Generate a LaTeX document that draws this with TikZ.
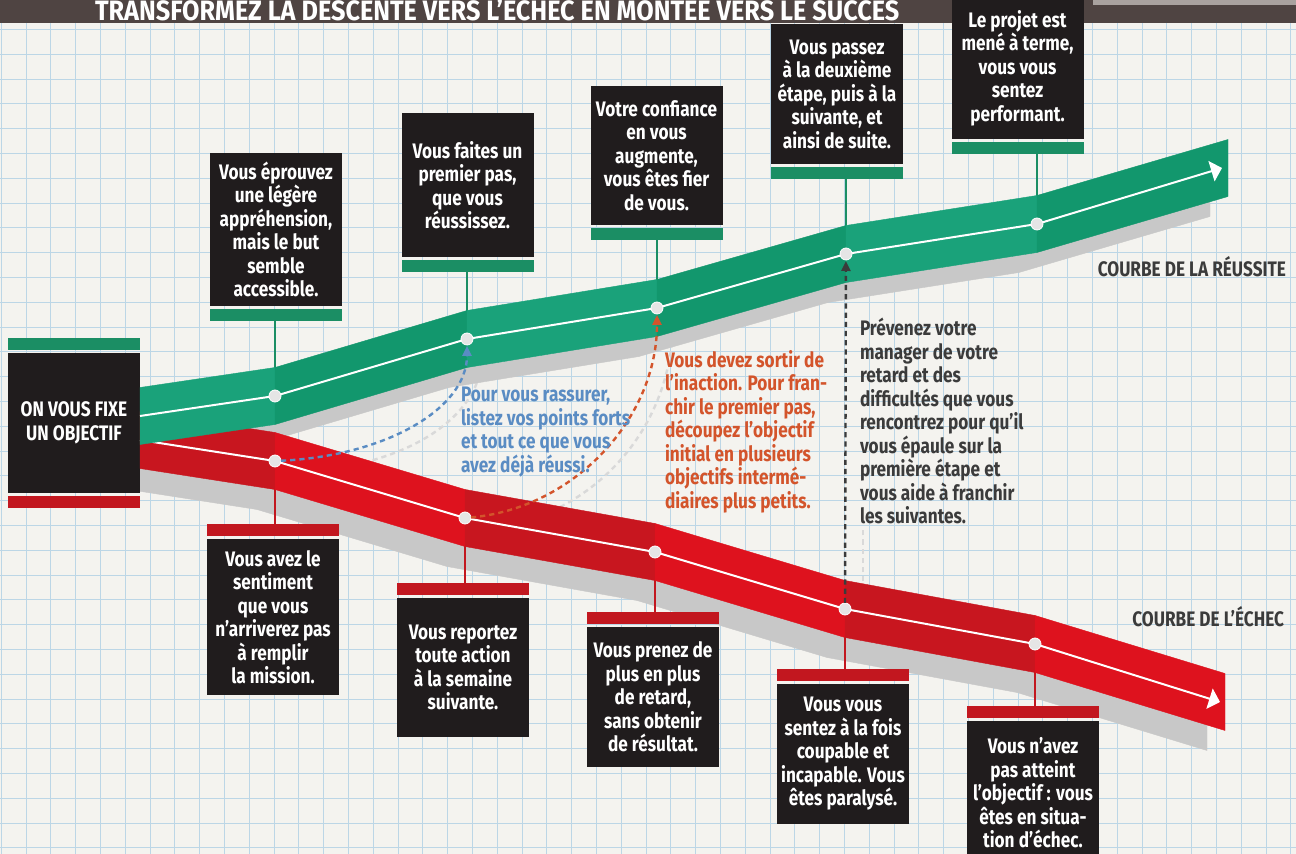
\documentclass[tikz,border=0pt]{standalone}
\usepackage{fontspec}
\setmainfont{Fira Sans}[FakeStretch=0.82]
\usetikzlibrary{arrows.meta,positioning,calc}
\definecolor{paper}{HTML}{F4F3EF}
\definecolor{gridblue}{HTML}{BCD6E6}
\definecolor{boxblack}{HTML}{201C1D}
\definecolor{titlebrown}{HTML}{4F4442}
\definecolor{titlegray}{HTML}{A9A29F}
\definecolor{greenA}{HTML}{1AA27A}
\definecolor{greenB}{HTML}{12976D}
\definecolor{greenbar}{HTML}{1B8E64}
\definecolor{redA}{HTML}{C8161F}
\definecolor{redB}{HTML}{DE121E}
\definecolor{redbar}{HTML}{C2171F}
\definecolor{shade}{HTML}{C8C8C8}
\definecolor{tipblue}{HTML}{5A8CC3}
\definecolor{tiporange}{HTML}{D3542B}
\definecolor{tipgray}{HTML}{3B3B3B}

\begin{document}
\begin{tikzpicture}[
  x=0.5pt,y=-0.5pt,
  every node/.style={font=\fontsize{10.5}{11.75}\selectfont\bfseries,inner sep=0pt,outer sep=0pt},
  gridline/.style={gridblue,line width=0.45pt},
  gbox/.style={fill=boxblack,text=white,align=center,minimum width=66pt},
  gbar/.style={fill=greenbar,minimum width=66pt,minimum height=6pt},
  rbar/.style={fill=redbar,minimum width=66pt,minimum height=6pt},
  gstem/.style={greenbar,line width=1.2pt},
  rstem/.style={redbar,line width=1.2pt},
  ribbonshadow/.style={fill=shade,draw=shade,line width=0.2pt},
  midline/.style={white,line width=1pt,-{Triangle[length=5.5pt,width=10.5pt]}},
  dot/.style={fill=black!10,draw=white,line width=0.4pt},
  hint/.style={dash pattern=on 2.6pt off 2pt,line width=1.2pt,
    -{Triangle[length=5pt,width=4.5pt]},shorten >=3.5pt,shorten <=3pt},
  hintshadow/.style={black!15,dash pattern=on 2.6pt off 2pt,line width=1.2pt},
  note/.style={align=left,anchor=north west},
  curvename/.style={text=tipgray,anchor=east}
]
\useasboundingbox (0,0) rectangle (1296,854);
\clip (0,0) rectangle (1296,854);

% squared paper
\fill[paper] (0,0) rectangle (1296,854);
\foreach \i in {0,...,52}
  \draw[gridline] ({1.2+24.8*\i},0) -- ++(0,854);
\foreach \j in {0,...,34}
  \draw[gridline] (0,{4.6+24.8*\j}) -- ++(1296,0);

% header
\fill[titlebrown] (0,0) rectangle (1296,23);
\fill[titlegray] (1093,0) rectangle (1296,5);
\node[font=\fontsize{14}{16}\selectfont\bfseries,text=white,anchor=base west] (title)
  at (95,20.5) {\scalebox{1.1}[1]{TRANSFORMEZ LA DESCENTE VERS L’ÉCHEC EN MONTÉE VERS LE SUCCÈS}};

% points on the two curves
\coordinate (gs) at (140,416);
\coordinate (g1) at (275,396);
\coordinate (g2) at (467,339);
\coordinate (g3) at (657,308);
\coordinate (g4) at (846,254);
\coordinate (g5) at (1037,224);
\coordinate (ge) at (1228,168);
\coordinate (rs) at (140,440);
\coordinate (r1) at (275,461);
\coordinate (r2) at (465,518);
\coordinate (r3) at (655,552);
\coordinate (r4) at (845,609);
\coordinate (r5) at (1035,644);
\coordinate (re) at (1225,702);

% shadows
\begin{scope}[transform canvas={xshift=8pt,yshift=-6pt}]
  \draw[hintshadow] (r1) .. controls +(110,-5) and +(0,70) .. (g2);
  \draw[hintshadow] (r2) .. controls +(110,-10) and +(0,110) .. (g3);
\end{scope}
\draw[hintshadow] ($(r4)+(18,0)$) -- ($(r4)+(18,-80)$);
\foreach \a/\b in {gs/g1,g1/g2,g2/g3,g3/g4,g4/g5,g5/ge,rs/r1,r1/r2,r2/r3,r3/r4,r4/r5,r5/re}
  \filldraw[ribbonshadow] ($(\a)+(-18,-8.5)$) -- ($(\b)+(-18,-8.5)$)
    -- ($(\b)+(-18,48.5)$) -- ($(\a)+(-18,48.5)$) -- cycle;

% starting box
\node[gbox,minimum height=70pt,anchor=north] (start) at (74,353) {ON VOUS FIXE\\UN OBJECTIF};
\node[gbar,above=1.5pt of start] (startup) {};
\node[rbar,below=1.5pt of start] (startdown) {};

% steps on the way up
\node[gbox,minimum height=76.5pt,anchor=north] (g1box) at (276,153)
  {Vous éprouvez\\une légère\\appréhension,\\mais le but\\semble\\accessible.};
\node[gbar,below=1.5pt of g1box] (g1bar) {};
\node[gbox,minimum height=72pt,anchor=north] (g2box) at (467.5,113)
  {Vous faites un\\premier pas,\\que vous\\réussissez.};
\node[gbar,below=1.5pt of g2box] (g2bar) {};
\node[gbox,minimum height=69.5pt,anchor=north] (g3box) at (656.5,86)
  {Votre confiance\\en vous\\augmente,\\vous êtes fier\\de vous.};
\node[gbar,below=1.5pt of g3box] (g3bar) {};
\node[gbox,minimum height=70pt,anchor=north] (g4box) at (837,24)
  {Vous passez\\à la deuxième\\étape, puis à la\\suivante, et\\ainsi de suite.};
\node[gbar,below=1.5pt of g4box] (g4bar) {};
\node[gbox,minimum height=71pt,anchor=north] (g5box) at (1017.5,-3)
  {Le projet est\\mené à terme,\\vous vous\\sentez\\performant.};
\node[gbar,below=1.5pt of g5box] (g5bar) {};

% steps on the way down
\node[gbox,minimum height=78pt,anchor=north] (r1box) at (273,539)
  {Vous avez le\\sentiment\\que vous\\n’arriverez pas\\à remplir\\la mission.};
\node[rbar,above=1.5pt of r1box] (r1bar) {};
\node[gbox,minimum height=69.5pt,anchor=north] (r2box) at (463,598)
  {Vous reportez\\toute action\\à la semaine\\suivante.};
\node[rbar,above=1.5pt of r2box] (r2bar) {};
\node[gbox,minimum height=70pt,anchor=north] (r3box) at (653,627)
  {Vous prenez de\\plus en plus\\de retard,\\sans obtenir\\de résultat.};
\node[rbar,above=1.5pt of r3box] (r3bar) {};
\node[gbox,minimum height=70pt,anchor=north] (r4box) at (843,684)
  {Vous vous\\sentez à la fois\\coupable et\\incapable. Vous\\êtes paralysé.};
\node[rbar,above=1.5pt of r4box] (r4bar) {};
\node[gbox,minimum height=72pt,anchor=north] (r5box) at (1033,721)
  {Vous n’avez\\pas atteint\\l’objectif : vous\\êtes en situa-\\tion d’échec.};
\node[rbar,above=1.5pt of r5box] (r5bar) {};

% stems
\foreach \p in {g1,g2,g3,g4,g5}
  \draw[gstem] (\p bar.south -| \p) -- (\p);
\foreach \p in {r1,r2,r3,r4,r5}
  \draw[rstem] (\p) -- (\p bar.north -| \p);

% failure ribbon
\foreach \a/\b/\c in {rs/r1/redA,r1/r2/redB,r2/r3/redA,r3/r4/redB,r4/r5/redA,r5/re/redB}
  \filldraw[fill=\c,draw=\c,line width=0.2pt] ($(\a)+(0,-28.5)$) -- ($(\b)+(0,-28.5)$)
    -- ($(\b)+(0,28.5)$) -- ($(\a)+(0,28.5)$) -- cycle;
\draw[midline] (rs) -- (r1) -- (r2) -- (r3) -- (r4) -- (r5) -- ($(re)+(-5,0)$);
\foreach \p in {r1,r2,r3,r4,r5}
  \filldraw[dot] (\p) circle (3pt);

% success ribbon
\foreach \a/\b/\c in {gs/g1/greenA,g1/g2/greenB,g2/g3/greenA,g3/g4/greenB,g4/g5/greenA,g5/ge/greenB}
  \filldraw[fill=\c,draw=\c,line width=0.2pt] ($(\a)+(0,-28.5)$) -- ($(\b)+(0,-28.5)$)
    -- ($(\b)+(0,28.5)$) -- ($(\a)+(0,28.5)$) -- cycle;
\draw[midline] (gs) -- (g1) -- (g2) -- (g3) -- (g4) -- (g5) -- ($(ge)+(-6,0)$);
\foreach \p in {g1,g2,g3,g4,g5}
  \filldraw[dot] (\p) circle (3pt);

% ways back up
\draw[hint,tipblue] (r1) .. controls +(110,-5) and +(0,70) .. (g2);
\draw[hint,tiporange] (r2) .. controls +(110,-10) and +(0,110) .. (g3);
\draw[hint,tipgray] (r4) -- (g4);

\node[note,text=tipblue] (reassure) at (461,387)
  {Pour vous rassurer,\\listez vos points forts\\et tout ce que vous\\avez déjà réussi.};
\node[note,text=tiporange] (unblock) at (665,350)
  {Vous devez sortir de\\l’inaction. Pour fran-\\chir le premier pas,\\découpez l’objectif\\initial en plusieurs\\objectifs intermé-\\diaires plus petits.};
\node[note,text=tipgray] (warn) at (860,318)
  {Prévenez votre\\manager de votre\\retard et des\\difficultés que vous\\rencontrez pour qu’il\\vous épaule sur la\\première étape et\\vous aide à franchir\\les suivantes.};

\node[curvename] (winlabel) at (1286,267) {COURBE DE LA RÉUSSITE};
\node[curvename] (loselabel) at (1284,617) {COURBE DE L’ÉCHEC};
\end{tikzpicture}
\end{document}
